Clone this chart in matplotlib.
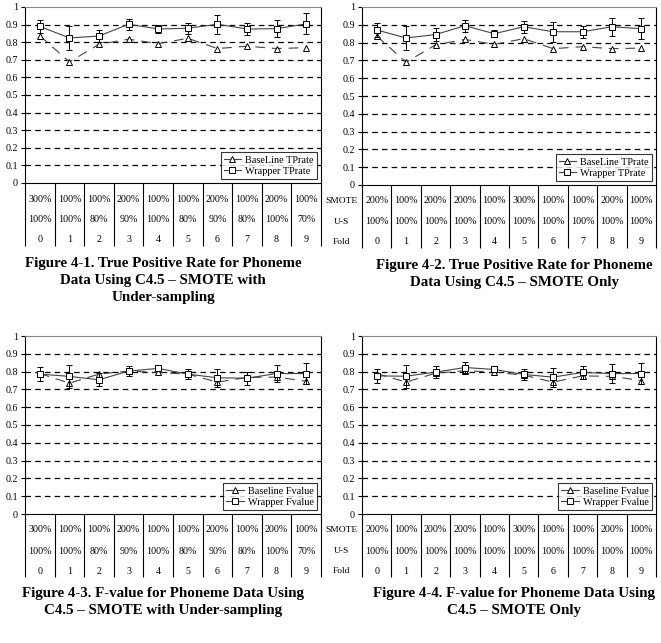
import numpy as np
import matplotlib
matplotlib.use('Agg')
import matplotlib.pyplot as plt

plt.rcParams['font.family'] = ['Liberation Serif', 'DejaVu Serif']
plt.rcParams['lines.scale_dashes'] = False

folds = ['0', '1', '2', '3', '4', '5', '6', '7', '8', '9']
smote_us = ['300%', '100%', '100%', '200%', '100%', '100%', '200%', '100%', '200%', '100%']
us_us = ['100%', '100%', '80%', '90%', '100%', '80%', '90%', '80%', '100%', '70%']
smote_only = ['200%', '100%', '200%', '200%', '100%', '300%', '100%', '100%', '200%', '100%']
us_only = ['100%'] * 10
ytick_labels = ['0', '0.1', '0.2', '0.3', '0.4', '0.5', '0.6', '0.7', '0.8', '0.9', '1']

# Figure 4-1: TP rate, SMOTE with under-sampling
base_tp1 = [0.837, 0.688, 0.788, 0.817, 0.792, 0.822, 0.764, 0.777, 0.764, 0.769]
wrap_tp1 = [0.890, 0.824, 0.835, 0.902, 0.875, 0.879, 0.902, 0.875, 0.877, 0.904]
wrap_tp1_err = [0.037, 0.070, 0.034, 0.032, 0.024, 0.032, 0.054, 0.036, 0.050, 0.060]

# Figure 4-2: TP rate, SMOTE only
base_tp2 = [0.837, 0.690, 0.787, 0.818, 0.790, 0.822, 0.766, 0.777, 0.766, 0.769]
wrap_tp2 = [0.871, 0.826, 0.845, 0.895, 0.850, 0.889, 0.861, 0.861, 0.889, 0.878]
wrap_tp2_err = [0.038, 0.067, 0.038, 0.033, 0.018, 0.033, 0.056, 0.035, 0.050, 0.058]

# Figure 4-3: F-value, SMOTE with under-sampling
base_f3 = [0.789, 0.735, 0.786, 0.803, 0.795, 0.786, 0.741, 0.767, 0.769, 0.746]
wrap_f3 = [0.786, 0.773, 0.754, 0.803, 0.818, 0.786, 0.765, 0.763, 0.789, 0.789]
wrap_f3_err = [0.040, 0.064, 0.037, 0.030, 0.010, 0.029, 0.049, 0.037, 0.050, 0.060]

# Figure 4-4: F-value, SMOTE only
base_f4 = [0.789, 0.741, 0.791, 0.805, 0.797, 0.780, 0.741, 0.776, 0.773, 0.750]
wrap_f4 = [0.776, 0.774, 0.797, 0.823, 0.812, 0.784, 0.769, 0.795, 0.789, 0.789]
wrap_f4_err = [0.038, 0.064, 0.032, 0.029, 0.017, 0.030, 0.053, 0.034, 0.052, 0.059]

W, H = 661, 643
fig = plt.figure(figsize=(W / 100, H / 100), dpi=100)


def panel(rect, base, wrap, err, row1, row2, names, caption, cap_xy, row_labels):
    l, t, r, b = rect
    ax = fig.add_axes([l / W, 1 - b / H, (r - l) / W, (b - t) / H])
    h = b - t
    x = np.arange(len(folds))
    for yv in np.arange(1, 10) / 10:
        ax.axhline(yv, color='black', lw=0.9, ls=(0, (4, 3)), zorder=1)
    ax.plot(x, base, color='#444444', lw=0.8, dashes=(7, 5), marker='^', ms=4.5,
            mfc='white', mec='black', mew=0.7, label=names[0], zorder=3)
    ax.errorbar(x, wrap, yerr=err, fmt='none', ecolor='black', elinewidth=0.7,
                capsize=2, capthick=0.7, zorder=4)
    ax.plot(x, wrap, color='#444444', lw=0.8, marker='s', ms=4.5,
            mfc='white', mec='black', mew=0.7, label=names[1], zorder=5)
    ax.set_xlim(-0.5, 9.5)
    ax.set_ylim(0, 1)
    ax.set_yticks(np.arange(11) / 10)
    ax.set_yticklabels(ytick_labels)
    ax.set_xticks([])
    ax.tick_params(axis='y', length=3, width=0.8, labelsize=7.2, pad=2)
    for s in ax.spines.values():
        s.set_linewidth(0.8)
    ax.spines['top'].set_color('#888888')

    # data table under the axis
    ax.vlines(np.arange(-0.5, 10.5, 1), -63 / h, 0, transform=ax.get_xaxis_transform(),
              color='black', lw=0.8, clip_on=False)
    for k, (rows_y, vals) in enumerate(zip((16, 37, 57), (row1, row2, folds))):
        for i, v in enumerate(vals):
            ax.annotate(v, xy=(i, 0), xycoords=('data', 'axes fraction'),
                        xytext=(0, -rows_y), textcoords='offset pixels',
                        ha='center', va='center', fontsize=7.2)
        if row_labels:
            ax.annotate(row_labels[k], xy=(0, 0), xycoords='axes fraction',
                        xytext=(-21, -rows_y), textcoords='offset pixels',
                        ha='center', va='center', fontsize=6.8)

    leg = ax.legend(loc='lower right', fontsize=7.4, frameon=True, fancybox=False,
                    edgecolor='black', borderpad=0.3, handlelength=1.7,
                    handletextpad=0.4, labelspacing=0.2, borderaxespad=0.4)
    leg.get_frame().set_linewidth(0.8)
    leg.get_lines()[0].set_linestyle('-')
    fig.text(cap_xy[0] / W, 1 - cap_xy[1] / H, caption, ha='center', va='top',
             fontsize=10.8, fontweight='bold', linespacing=1.42)
    return ax


panel((25, 7, 321, 183), base_tp1, wrap_tp1, wrap_tp1_err, smote_us, us_us,
      ('BaseLine TPrate', 'Wrapper TPrate'),
      'Figure 4-1. True Positive Rate for Phoneme\nData Using C4.5 \u2013 SMOTE with\nUnder-sampling',
      (163, 257), None)
panel((362, 7, 656, 185), base_tp2, wrap_tp2, wrap_tp2_err, smote_only, us_only,
      ('BaseLine TPrate', 'Wrapper TPrate'),
      'Figure 4-2. True Positive Rate for Phoneme\nData Using C4.5 \u2013 SMOTE Only',
      (514, 259), ('SMOTE', 'U-S', 'Fold'))
panel((25, 336, 321, 514), base_f3, wrap_f3, wrap_f3_err, smote_us, us_us,
      ('Baseline Fvalue', 'Wrapper Fvalue'),
      'Figure 4-3. F-value for Phoneme Data Using\nC4.5 \u2013 SMOTE with Under-sampling',
      (163, 587), None)
panel((362, 336, 656, 514), base_f4, wrap_f4, wrap_f4_err, smote_only, us_only,
      ('Baseline Fvalue', 'Wrapper Fvalue'),
      'Figure 4-4. F-value for Phoneme Data Using\nC4.5 \u2013 SMOTE Only',
      (514, 587), ('SMOTE', 'U-S', 'Fold'))

plt.savefig('out.png', dpi=100)
